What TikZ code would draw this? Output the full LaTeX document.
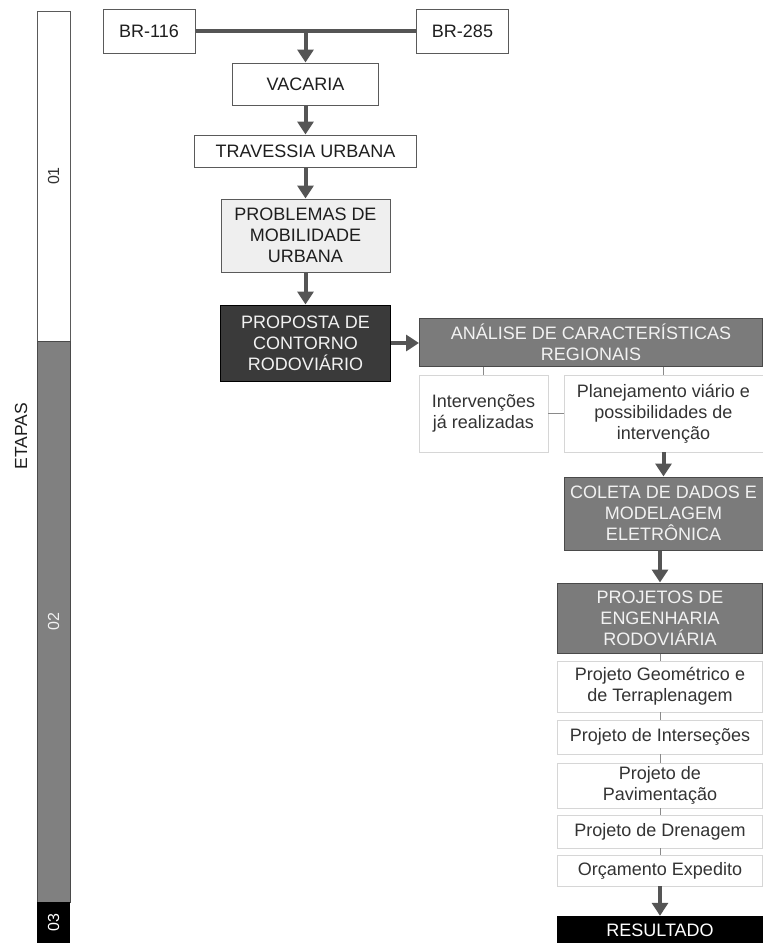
\documentclass[tikz,border=0pt]{standalone}
\usepackage{fontspec}
\setmainfont{Liberation Sans}
\usetikzlibrary{arrows.meta}
\definecolor{conncol}{HTML}{555555}
\definecolor{bord}{HTML}{5A5A5A}
\definecolor{lightbord}{HTML}{D6D6D6}
\definecolor{linkcol}{HTML}{8A8A8A}
\definecolor{txt}{HTML}{1E1E1E}
\definecolor{subtxt}{HTML}{333333}
\definecolor{midgray}{HTML}{7B7B7B}
\definecolor{gborder}{HTML}{4A4A4A}
\definecolor{darkfill}{HTML}{3A3A3A}
\definecolor{palefill}{HTML}{EFEFEF}
\definecolor{stagegray}{HTML}{808080}
\definecolor{lighttxt}{HTML}{F2F2F2}
\begin{document}
\begin{tikzpicture}[x=1pt,y=-1pt,
  base/.style={rectangle, inner sep=0pt, align=center, font=\fontsize{18}{21}\selectfont, text=txt},
  wbox/.style={base, draw=bord, line width=1pt, fill=white},
  pbox/.style={base, draw=bord, line width=1pt, fill=palefill},
  lbox/.style={base, draw=lightbord, line width=0.8pt, fill=white, text=subtxt},
  gbox/.style={base, draw=gborder, line width=1pt, fill=midgray, text=lighttxt},
  dbox/.style={base, draw=black, line width=1pt, fill=darkfill, text=lighttxt},
  bbox/.style={base, draw=black, fill=black, text=white},
  stagebox/.style={rectangle, inner sep=0pt, rotate=90, minimum height=33, font=\fontsize{16}{19}\selectfont},
  conn/.style={draw=conncol, line width=4pt, -{Triangle[length=13pt,width=16pt]}},
  bar/.style={draw=conncol, line width=4pt},
  link/.style={draw=linkcol, line width=1pt},
]
\useasboundingbox (0,0) rectangle (763,943);

% stage bar
\node[stagebox, draw=bord, line width=1pt, fill=white, text=subtxt, minimum width=330] (s1) at (53.5,176) {01};
\node[stagebox, draw=gborder, line width=1pt, fill=stagegray, text=lighttxt, minimum width=561] (s2) at (53.5,621.5) {02};
\node[stagebox, fill=black, text=white, minimum width=41] (s3) at (53.5,922.5) {03};
\node[rotate=90, inner sep=0pt, font=\fontsize{17.5}{20}\selectfont, text=txt] (etapas) at (21,436) {ETAPAS};

% stage 01 flow
\node[wbox, minimum width=92, minimum height=44] (br116) at (149,31) {BR-116};
\node[wbox, minimum width=92, minimum height=44] (br285) at (462.5,31) {BR-285};
\node[wbox, minimum width=146, minimum height=42] (vacaria) at (305.5,84) {VACARIA};
\node[wbox, minimum width=222, minimum height=32] (travessia) at (305.5,151) {TRAVESSIA URBANA};
\node[pbox, minimum width=169, minimum height=73] (problemas) at (305.5,235.5) {PROBLEMAS DE\\MOBILIDADE\\URBANA};

% stage 02 flow
\node[dbox, minimum width=170, minimum height=76] (proposta) at (305.5,343) {PROPOSTA DE\\CONTORNO\\RODOVIÁRIO};
\node[gbox, minimum width=343, minimum height=48] (analise) at (591,342) {ANÁLISE DE CARACTERÍSTICAS\\REGIONAIS};
\node[lbox, minimum width=129, minimum height=77] (interv) at (483.5,413.5) {Intervenções\\já realizadas};
\node[lbox, minimum width=199, minimum height=77] (planej) at (663.5,413.5) {Planejamento viário e\\possibilidades de\\intervenção};
\node[gbox, minimum width=199, minimum height=73] (coleta) at (663.5,513.5) {COLETA DE DADOS E\\MODELAGEM\\ELETRÔNICA};
\node[gbox, minimum width=205, minimum height=70] (projetos) at (660,618) {PROJETOS DE\\ENGENHARIA\\RODOVIÁRIA};
\node[lbox, minimum width=205, minimum height=51] (geom) at (660,686.5) {Projeto Geométrico e\\de Terraplenagem};
\node[lbox, minimum width=205, minimum height=34] (inters) at (660,737) {Projeto de Interseções};
\node[lbox, minimum width=205, minimum height=45] (pavim) at (660,785.5) {Projeto de\\Pavimentação};
\node[lbox, minimum width=205, minimum height=33] (dren) at (660,831.5) {Projeto de Drenagem};
\node[lbox, minimum width=205, minimum height=31] (orc) at (660,870.5) {Orçamento Expedito};

% stage 03
\node[bbox, minimum width=205, minimum height=28] (result) at (660,930) {RESULTADO};

% connectors
\draw[bar] (br116.east) -- (br285.west);
\coordinate (jn) at (br116.east -| vacaria.north);
\draw[conn] (jn) -- (vacaria.north);
\draw[conn] (vacaria.south) -- (travessia.north);
\draw[conn] (travessia.south) -- (problemas.north);
\draw[conn] (problemas.south) -- (proposta.north);
\draw[conn] (proposta.east) -- (analise.west |- proposta.east);
\draw[link] (analise.south -| interv.north) -- (interv.north);
\draw[link] (analise.south -| planej.north) -- (planej.north);
\draw[link] (interv.east) -- (planej.west);
\draw[conn] (planej.south) -- (coleta.north);
\draw[conn] (coleta.south -| projetos.north) -- (projetos.north);
\draw[link] (projetos.south) -- (geom.north);
\draw[link] (geom.south) -- (inters.north);
\draw[link] (inters.south) -- (pavim.north);
\draw[link] (pavim.south) -- (dren.north);
\draw[link] (dren.south) -- (orc.north);
\draw[conn] (orc.south) -- (result.north);
\end{tikzpicture}
\end{document}
